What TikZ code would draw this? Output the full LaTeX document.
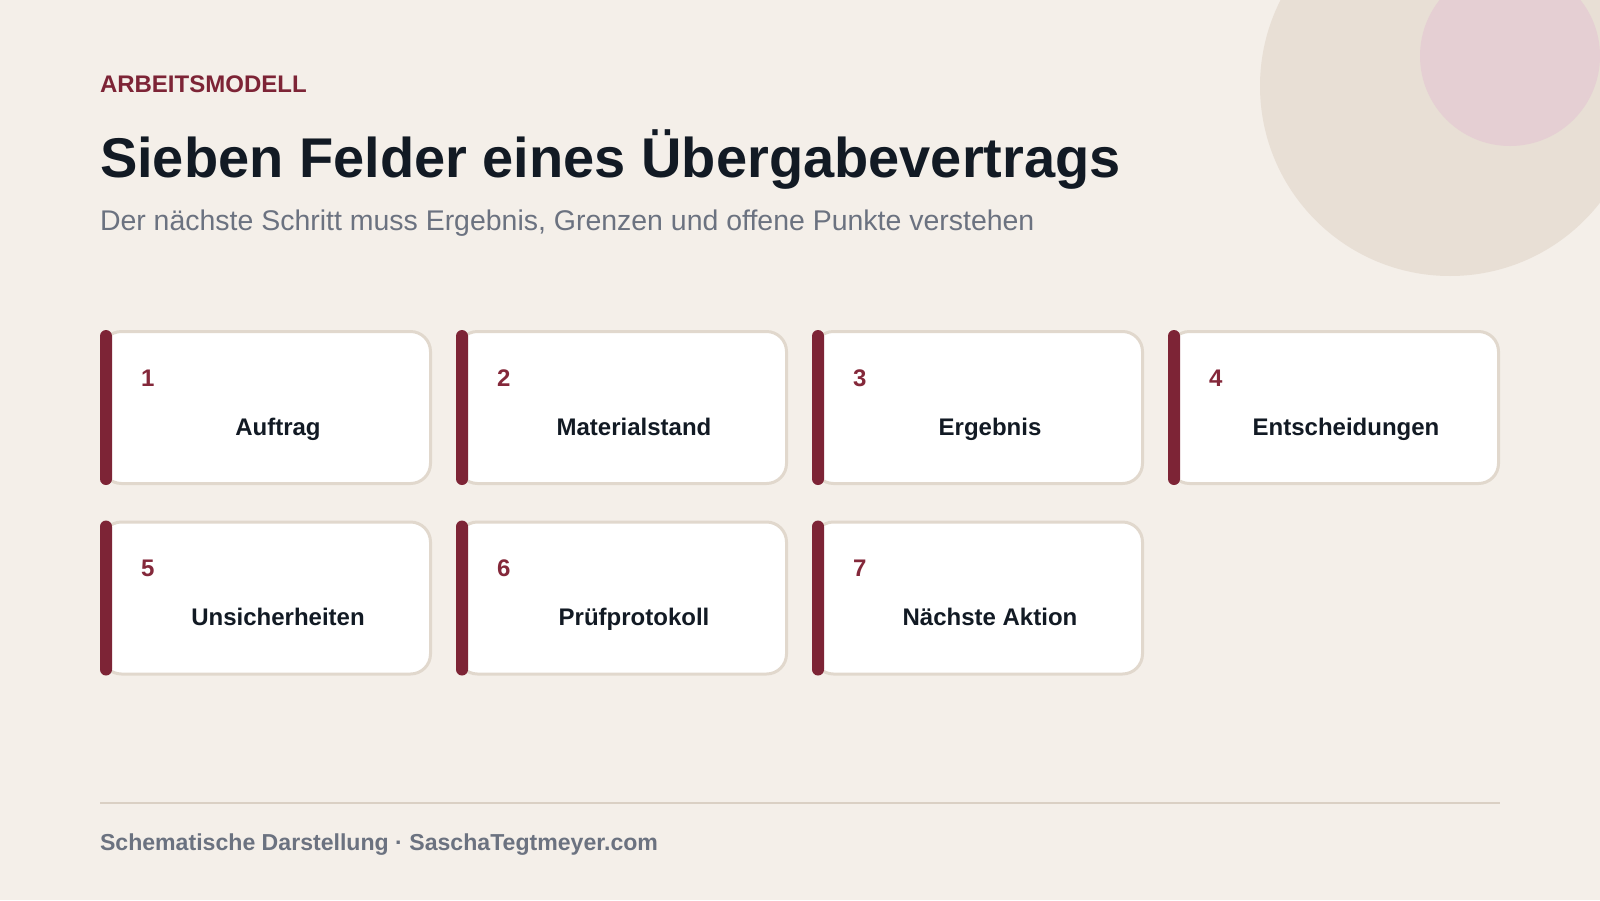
\documentclass[tikz,border=0pt]{standalone}
\usepackage{fontspec}
\setmainfont{Liberation Sans}
\definecolor{bgc}{HTML}{F4EFE9}
\definecolor{circA}{HTML}{E8DFD5}
\definecolor{circB}{HTML}{E5CFD3}
\definecolor{accent}{HTML}{7D2436}
\definecolor{numc}{HTML}{84283A}
\definecolor{darktxt}{HTML}{121A24}
\definecolor{graytxt}{HTML}{6B7280}
\definecolor{cardline}{HTML}{E1D8CD}
\definecolor{footlinec}{HTML}{DAD0C4}
\begin{document}
\begin{tikzpicture}[x=0.5pt,y=-0.5pt,
  txt/.style={inner sep=0pt, outer sep=0pt, anchor=base west},
  kicker/.style={txt, font=\fontsize{12pt}{14pt}\selectfont\bfseries, text=accent},
  titletxt/.style={txt, font=\fontsize{28pt}{32pt}\selectfont\bfseries, text=darktxt},
  subtxt/.style={txt, font=\fontsize{14.23pt}{17pt}\selectfont, text=graytxt},
  foottxt/.style={txt, font=\fontsize{11.55pt}{13pt}\selectfont\bfseries, text=graytxt},
  cardbox/.style={draw=cardline, line width=1.5pt, fill=white, rounded corners=10pt},
  accentbar/.style={fill=accent, rounded corners=3pt},
  numtxt/.style={txt, font=\fontsize{12pt}{14pt}\selectfont\bfseries, text=numc},
  labtxt/.style={inner sep=0pt, outer sep=0pt, anchor=base, font=\fontsize{12pt}{14pt}\selectfont\bfseries, text=darktxt},
  footline/.style={draw=footlinec, line width=1pt}
]
\useasboundingbox (0,0) rectangle (1600,900);
\fill[bgc] (0,0) rectangle (1600,900);
\begin{scope}
  \clip (0,0) rectangle (1600,900);
  \fill[circA] (1450,86) circle[radius=95pt];
  \fill[circB] (1510,56) circle[radius=45pt];
\end{scope}

\node[kicker] (kick) at (100,92.3) {ARBEITSMODELL};
\node[titletxt] (title) at (100,177.3) {Sieben Felder eines Übergabevertrags};
\node[subtxt] (sub) at (100,230) {Der nächste Schritt muss Ergebnis, Grenzen und offene Punkte verstehen};

\foreach \n/\cx/\cy/\lab in {1/100/330/Auftrag, 2/456/330/Materialstand, 3/812/330/Ergebnis, 4/1168/330/Entscheidungen, 5/100/520.5/Unsicherheiten, 6/456/520.5/Prüfprotokoll, 7/812/520.5/{Nächste Aktion}} {
  \draw[cardbox] (\cx+1.5,\cy+1.5) rectangle (\cx+330.5,\cy+153.5);
  \fill[accentbar] (\cx,\cy) rectangle (\cx+12,\cy+155);
  \node[numtxt] (num\n) at (\cx+41,\cy+56) {\n};
  \node[labtxt] (lab\n) at (\cx+178,\cy+105) {\lab};
}

\coordinate (fl) at (100,802.5);
\coordinate (fr) at (1500,802.5);
\draw[footline] (fl) -- (fr);
\node[foottxt] (foot) at (100,850) {Schematische Darstellung · SaschaTegtmeyer.com};
\end{tikzpicture}
\end{document}
